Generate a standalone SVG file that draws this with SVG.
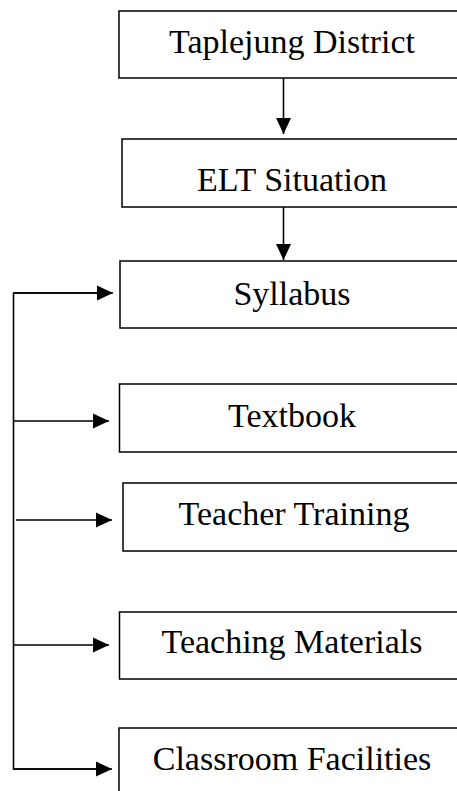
<svg xmlns="http://www.w3.org/2000/svg" width="457" height="791" viewBox="0 0 457 791">
<defs>
<style>
.box{fill:#fff;stroke:#000;stroke-width:1.5}
.lbl{font-family:"Liberation Serif","Times New Roman",serif;font-size:34px;fill:#000;text-anchor:middle}
.ln{fill:none;stroke:#000;stroke-width:1.6}
</style>
<marker id="ah" markerWidth="16" markerHeight="16" refX="16" refY="8" orient="auto" markerUnits="userSpaceOnUse">
<path d="M0,0.5 L16,8 L0,15.5 Z" fill="#000"/>
</marker>
</defs>
<rect width="457" height="791" fill="#fff"/>
<g id="connectors">
<line class="ln" x1="283.5" y1="78" x2="283.5" y2="134" marker-end="url(#ah)"/>
<line class="ln" x1="283.5" y1="207" x2="283.5" y2="260" marker-end="url(#ah)"/>
<polyline class="ln" points="100,293 13.5,293 13.5,769 100,769"/>
<line class="ln" x1="13.5" y1="293" x2="113" y2="293" marker-end="url(#ah)"/>
<line class="ln" x1="13.5" y1="421" x2="109" y2="421" marker-end="url(#ah)"/>
<line class="ln" x1="16" y1="520" x2="112" y2="520" marker-end="url(#ah)"/>
<line class="ln" x1="13.5" y1="645" x2="109" y2="645" marker-end="url(#ah)"/>
<line class="ln" x1="13.5" y1="769" x2="112" y2="769" marker-end="url(#ah)"/>
</g>
<g id="taplejung"><rect class="box" x="119" y="11" width="360" height="67"/><text class="lbl" x="292" y="53">Taplejung District</text></g>
<g id="elt"><rect class="box" x="122" y="139" width="360" height="68"/><text class="lbl" x="292" y="191">ELT Situation</text></g>
<g id="syllabus"><rect class="box" x="120" y="261" width="360" height="67"/><text class="lbl" x="292" y="305">Syllabus</text></g>
<g id="textbook"><rect class="box" x="119.5" y="384" width="360" height="68"/><text class="lbl" x="292" y="427">Textbook</text></g>
<g id="teacher-training"><rect class="box" x="123" y="483" width="360" height="68"/><text class="lbl" x="294" y="525">Teacher Training</text></g>
<g id="teaching-materials"><rect class="box" x="119.5" y="612" width="360" height="67"/><text class="lbl" x="292" y="653">Teaching Materials</text></g>
<g id="classroom"><rect class="box" x="119" y="728" width="360" height="80"/><text class="lbl" x="292" y="770">Classroom Facilities</text></g>
</svg>
